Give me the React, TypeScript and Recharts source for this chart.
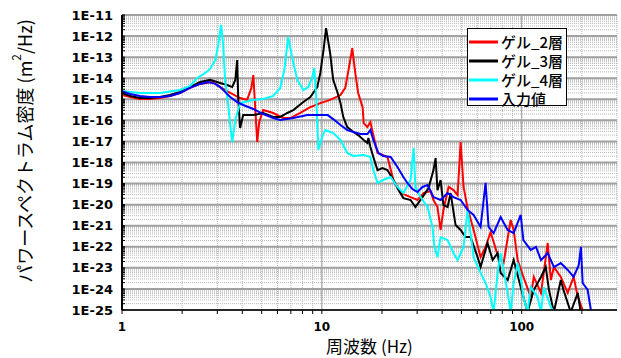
import React from 'react';
import { LineChart, Line, XAxis, YAxis, CartesianGrid, Legend, Label } from 'recharts';

// Frequencies (Hz) and log10 of PSD (m^2/Hz)
const gel2Freq = [1.0,1.10,1.23,1.38,1.55,1.74,1.95,2.19,2.46,2.83,3.10,3.48,3.90,4.23,4.44,4.54,4.64,4.75,4.86,5.09,5.71,6.41,6.95,7.80,8.76,9.83,11.0,12.4,13.1,13.6,14.2,14.7,15.2,16.0,16.2,16.9,17.5,18.1,19.0,20.1,21.3,22.8,24.8,27.8,30.1,32.3,35.0,36.2,37.9,39.3,40.6,43.1,45.6,47.8,49.5,51.2,53.6,57.5,62.3,66.0,69.9,75.8,81.2,88.1,91.2,95.5,102,111,115,125,135,140,145,157,170,182,191,202,209];
const gel2Log = [-14.80,-14.89,-14.99,-14.99,-14.94,-14.84,-14.70,-14.46,-14.27,-14.18,-14.42,-14.70,-14.94,-15.03,-14.46,-13.85,-15.37,-17.03,-16.08,-15.51,-15.65,-15.89,-15.89,-15.65,-15.37,-15.18,-15.03,-14.80,-14.46,-13.61,-12.57,-13.75,-14.70,-15.37,-16.13,-16.32,-16.08,-16.70,-17.55,-17.64,-17.74,-18.83,-19.45,-19.64,-19.78,-19.45,-19.35,-19.78,-20.11,-21.20,-20.25,-19.16,-19.31,-19.55,-17.03,-19.16,-20.16,-21.20,-22.49,-22.01,-21.30,-22.39,-22.77,-20.73,-21.20,-22.63,-23.43,-24.38,-23.43,-24.19,-21.82,-23.58,-22.96,-23.43,-24.19,-23.43,-24.38,-25.0,-25.3];

const gel3Freq = [1.0,1.10,1.23,1.38,1.55,1.74,1.95,2.19,2.46,2.76,3.10,3.36,3.56,3.69,3.77,3.82,3.90,4.04,4.54,5.09,5.71,6.19,6.72,7.20,8.08,8.76,9.49,9.83,10.2,10.5,11.0,11.4,12.0,12.4,12.8,13.4,14.4,15.2,16.2,16.9,17.1,17.5,18.1,19.0,20.1,21.3,22.8,24.2,25.6,27.8,29.4,31.9,34.2,36.2,37.1,37.9,39.3,40.6,42.6,44.1,46.7,49.5,52.4,55.5,60.2,62.3,67.5,71.6,75.8,78.5,85.1,91.2,98.9,107,115,125,132,137,145,157,162,176,191,198];
const gel3Log = [-14.70,-14.84,-14.94,-14.94,-14.89,-14.80,-14.65,-14.42,-14.18,-14.08,-14.23,-14.32,-14.42,-14.08,-13.14,-15.03,-16.36,-15.75,-15.75,-15.65,-15.84,-15.84,-15.65,-15.51,-15.13,-14.89,-14.42,-13.75,-12.66,-11.62,-12.80,-14.08,-14.70,-15.18,-15.84,-16.32,-16.55,-16.70,-16.93,-17.07,-16.84,-17.26,-17.74,-18.36,-18.26,-18.36,-18.83,-19.31,-19.69,-19.78,-20.11,-19.64,-19.21,-18.36,-17.79,-19.31,-18.83,-20.02,-20.11,-19.45,-20.97,-21.20,-21.54,-21.54,-22.49,-22.96,-21.82,-22.63,-22.30,-23.24,-23.58,-22.63,-23.91,-25.1,-24.05,-23.43,-22.96,-24.05,-25.1,-23.58,-24.05,-25.1,-24.19,-25.2];

const gel4Freq = [1.0,1.23,1.55,1.95,2.19,2.38,2.61,2.76,2.93,3.03,3.13,3.21,3.28,3.40,3.48,3.56,3.69,3.90,4.54,5.09,5.71,6.19,6.49,6.79,7.11,7.54,8.08,8.56,8.96,9.17,9.39,9.61,10.1,10.4,11.4,12.4,13.4,14.4,16.2,17.5,18.1,19.0,20.3,22.1,23.9,25.6,27.8,28.8,29.4,31.2,33.8,35.8,36.6,37.9,39.3,42.6,45.6,47.8,51.2,53.6,55.5,57.5,62.3,66.0,69.9,72.4,75.8,78.5,81.2,85.1,88.1,91.2,95.5,98.9,102,107,111,120,125,129,140,148];
const gel4Log = [-14.61,-14.70,-14.70,-14.56,-14.37,-13.99,-13.75,-13.56,-13.14,-12.42,-11.47,-12.42,-14.08,-15.27,-16.22,-17.03,-15.98,-15.18,-15.03,-14.99,-14.84,-14.46,-13.61,-12.04,-13.04,-14.08,-14.56,-14.42,-13.94,-13.52,-15.03,-17.41,-16.70,-16.46,-16.60,-16.93,-17.55,-17.69,-17.64,-17.74,-18.36,-18.97,-18.83,-18.69,-19.16,-19.45,-18.83,-17.31,-19.16,-19.64,-20.11,-21.06,-22.01,-22.49,-21.54,-21.68,-22.30,-22.63,-22.01,-20.25,-21.35,-22.49,-23.24,-23.72,-24.38,-25.1,-23.24,-22.30,-23.10,-24.19,-25.1,-23.72,-22.77,-23.43,-24.38,-25.1,-23.91,-24.38,-25.1,-23.91,-24.86,-25.2];

const inputFreq = [1.0,1.10,1.23,1.38,1.55,1.74,1.95,2.19,2.46,2.70,2.93,3.10,3.28,3.48,3.77,4.04,4.54,5.09,5.71,6.19,7.20,8.46,9.83,10.7,11.4,12.4,13.4,14.4,15.6,16.9,17.5,18.1,19.2,20.3,22.1,23.9,25.6,26.8,28.4,30.1,31.9,33.8,36.2,39.3,42.6,45.6,49.5,53.6,57.5,62.3,66.0,68.3,72.4,78.5,85.1,91.2,98.9,102,111,118,125,135,145,157,170,182,193,198,202,214,222,227];
const inputLog = [-14.61,-14.75,-14.84,-14.89,-14.89,-14.84,-14.70,-14.46,-14.27,-14.18,-14.27,-14.42,-14.65,-14.89,-15.13,-15.27,-15.46,-15.70,-15.89,-15.98,-15.89,-15.75,-15.75,-15.75,-15.94,-16.22,-16.46,-16.55,-16.65,-16.65,-16.46,-16.93,-17.55,-17.69,-17.74,-18.21,-18.69,-18.97,-19.26,-19.40,-19.16,-19.07,-19.64,-19.78,-19.45,-19.64,-19.78,-20.25,-20.49,-21.06,-18.97,-21.06,-21.35,-20.59,-21.20,-21.35,-20.49,-21.68,-22.15,-22.01,-22.63,-22.30,-22.96,-22.77,-23.10,-23.43,-22.87,-22.01,-23.72,-24.05,-25.0,-25.3];

const seriesNames = ['ゲル_2層', 'ゲル_3層', 'ゲル_4層', '入力値'];
const seriesColors = ['#ff0000', '#000000', '#00ffff', '#0000ff'];

const xMajorTicks = [1, 10, 100];
const xMultipliers = [1, 2, 3, 4, 5, 6, 7, 8, 9];
const yMajorTicks = [-25, -24, -23, -22, -21, -20, -19, -18, -17, -16, -15, -14, -13, -12, -11];

const X_MAX = 300;
const xAllTicks: number[] = [];
xMajorTicks.forEach((d) => xMultipliers.forEach((m) => { if (d * m < X_MAX) xAllTicks.push(d * m); }));
const yAllTicks: number[] = [];
yMajorTicks.forEach((e) => {
  if (e === -11) { yAllTicks.push(e); return; }
  xMultipliers.forEach((m) => yAllTicks.push(e + Math.log10(m)));
});

const rows = (f: number[], v: number[]) => f.map((x, i) => ({ f: x, v: v[i] }));
const seriesData = [rows(gel2Freq, gel2Log), rows(gel3Freq, gel3Log), rows(gel4Freq, gel4Log), rows(inputFreq, inputLog)];

const tickFont = { fontFamily: '"DejaVu Sans", sans-serif', fontWeight: 700, fill: '#000' };
const jpFont = '"Noto Sans CJK JP", sans-serif';

const LegendBox = (props: any) => {
  const payload = props.payload || [];
  return (
    <div style={{ border: '1px solid #000', background: '#fff', width: 100, height: 78, boxSizing: 'border-box', paddingTop: 3 }}>
      {payload.map((p: any) => (
        <div key={p.value} style={{ display: 'flex', alignItems: 'center', height: 19, overflow: 'visible' }}>
          <svg width={31} height={4} style={{ display: 'block' }}>
            <line x1={1} y1={2} x2={30} y2={2} stroke={p.color} strokeWidth={3} />
          </svg>
          <span style={{ display: 'inline-block', marginLeft: 2, height: 17, fontFamily: jpFont, fontWeight: 500, fontSize: 15, lineHeight: '17px', color: '#000', whiteSpace: 'nowrap', overflow: 'visible' }}>{p.value}</span>
        </div>
      ))}
    </div>
  );
};

const YTitle = (props: any) => {
  const vb = props.viewBox || { x: 0, y: 15, width: 122, height: 295 };
  const cx = vb.x + 24;
  const cy = vb.y + 136;
  return (
    <text x={cx} y={cy} transform={`rotate(-90 ${cx} ${cy})`} textAnchor="middle" dominantBaseline="central"
      style={{ fontFamily: jpFont, fontSize: 18, fontWeight: 400, fill: '#000' }}>
      パワースペクトラム密度 (m<tspan fontSize={12} baselineShift="super">2</tspan>/Hz)
    </text>
  );
};

const XTitle = (props: any) => {
  const vb = props.viewBox || { x: 122, y: 310, width: 495, height: 48 };
  return (
    <text x={vb.x + vb.width / 2} y={vb.y + 43} textAnchor="middle"
      style={{ fontFamily: jpFont, fontSize: 17, fontWeight: 400, fill: '#000' }}>
      周波数 (Hz)
    </text>
  );
};

export default function App() {
  return (
    <div style={{ position: 'fixed', left: 0, top: 0, width: 621, height: 358, background: '#fff' }}>
      <LineChart width={621} height={358} margin={{ top: 15, right: 4, bottom: 0, left: 0 }}>
        <CartesianGrid stroke="#b8b8b8" strokeDasharray="1 1" />
        <CartesianGrid stroke="#a0a0a0" strokeWidth={2} vertical={false} horizontalValues={yMajorTicks} />
        <CartesianGrid stroke="#a0a0a0" horizontal={false} verticalValues={[10, 100]} />
        <XAxis
          dataKey="f"
          type="number"
          scale="log"
          domain={[1, X_MAX]}
          allowDataOverflow
          ticks={xAllTicks}
          interval={0}
          height={48}
          tickSize={4}
          tickMargin={8}
          tickFormatter={(v: number) => (xMajorTicks.includes(v) ? String(v) : '')}
          tick={{ ...tickFont, fontSize: 12 }}
          axisLine={{ stroke: '#000', strokeWidth: 1.5 }}
          tickLine={{ stroke: '#000' }}
        >
          <Label content={XTitle} />
        </XAxis>
        <YAxis
          type="number"
          domain={[-25, -11]}
          allowDataOverflow
          ticks={yAllTicks}
          interval={0}
          width={122}
          tickSize={-3}
          tickMargin={12}
          tickFormatter={(v: number) => (Number.isInteger(v) ? `1E${v}` : '')}
          tick={{ ...tickFont, fontSize: 13 }}
          axisLine={{ stroke: '#000', strokeWidth: 2 }}
          tickLine={{ stroke: '#000' }}
        >
          <Label content={YTitle} />
        </YAxis>
        {seriesData.map((d, i) => (
          <Line
            key={seriesNames[i]}
            data={d}
            dataKey="v"
            name={seriesNames[i]}
            type="linear"
            stroke={seriesColors[i]}
            strokeWidth={2}
            dot={false}
            activeDot={false}
            isAnimationActive={false}
          />
        ))}
        <Legend
          layout="vertical"
          align="center"
          verticalAlign="middle"
          content={LegendBox}
          wrapperStyle={{ position: 'absolute', left: 467, top: 28, width: 100, height: 78, right: 'auto', bottom: 'auto' }}
        />
      </LineChart>
    </div>
  );
}
